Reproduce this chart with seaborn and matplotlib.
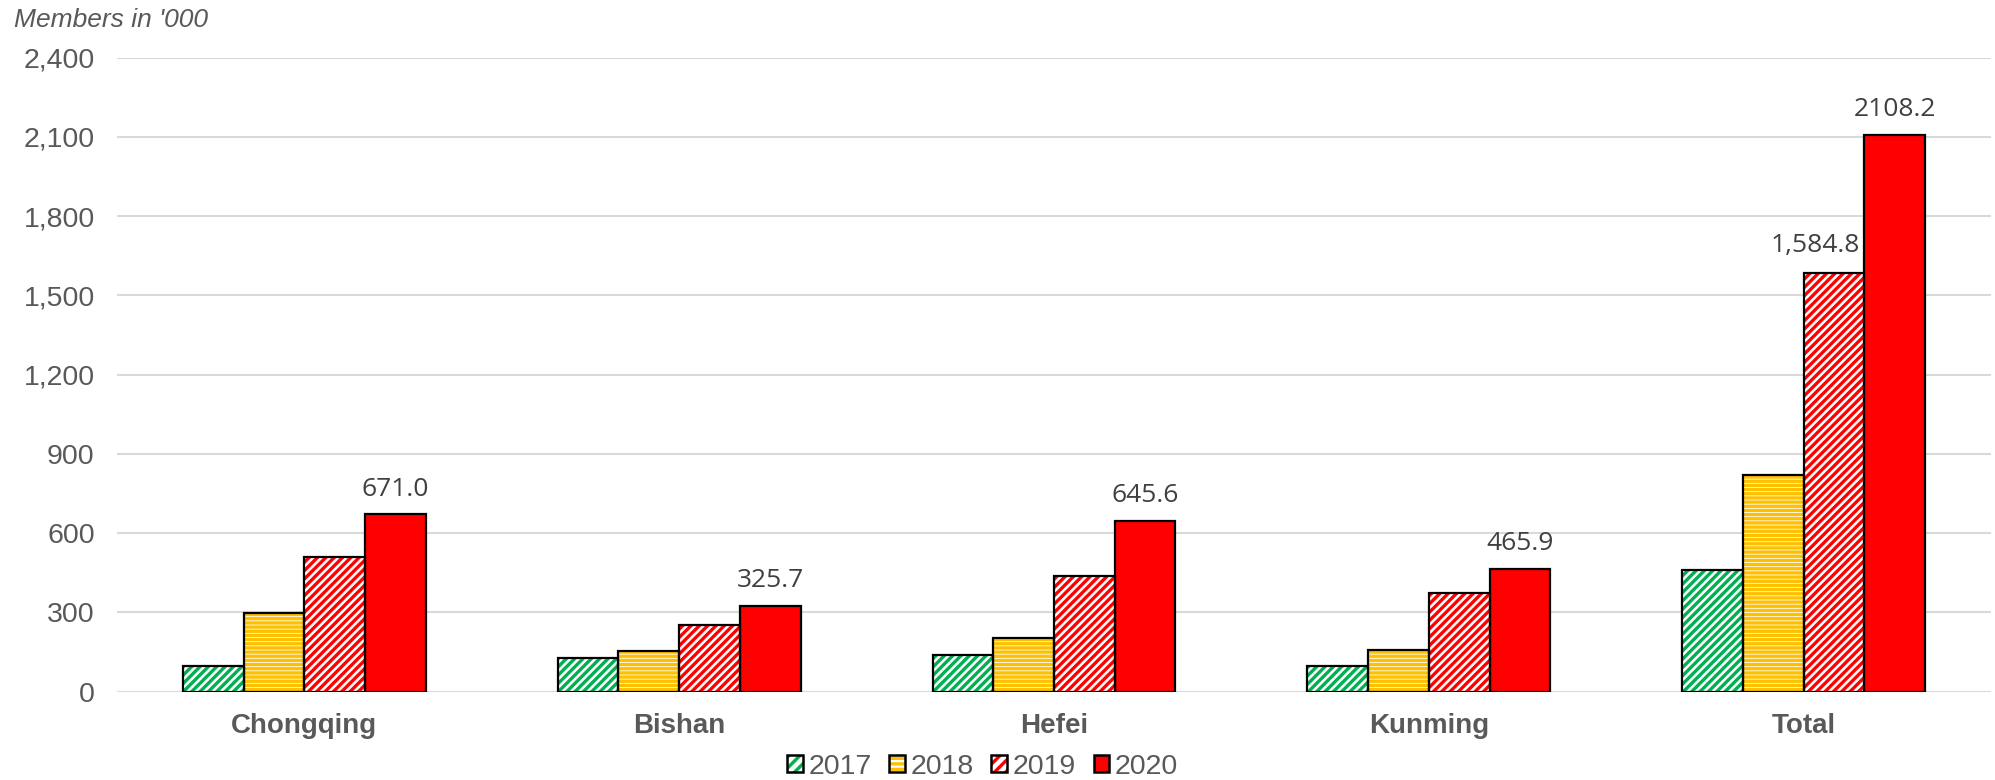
import matplotlib
matplotlib.use("Agg")
import matplotlib.pyplot as plt
from matplotlib.patches import Rectangle, Patch
from matplotlib.legend_handler import HandlerTuple
from matplotlib.ticker import FuncFormatter, MultipleLocator
import seaborn as sns
import pandas as pd

# Membership (thousands) by city and year
cities = ["Chongqing", "Bishan", "Hefei", "Kunming", "Total"]
years = ["2017", "2018", "2019", "2020"]
members_2017 = [98, 126, 138, 96, 459]
members_2018 = [299, 153, 204, 158, 820]
members_2019 = [511, 254, 439, 374, 1584.8]
members_2020 = [671.0, 325.7, 645.6, 465.9, 2108.2]

series_colors = {"2017": "#00B050", "2018": "#FFC000", "2019": "#FF0000", "2020": "#FF0000"}
series_hatch = {"2017": "////", "2018": "----", "2019": "////", "2020": None}

GRAY = "#595959"
LABEL_GRAY = "#404040"

sns.set_theme(style="white")
plt.rcParams["font.family"] = ["Liberation Sans", "DejaVu Sans"]
plt.rcParams["hatch.linewidth"] = 2.4

df = pd.DataFrame({
    "city": cities * 4,
    "year": [y for y in years for _ in cities],
    "members": members_2017 + members_2018 + members_2019 + members_2020,
})

fig = plt.figure(figsize=(19.95, 7.8), dpi=100)
ax = fig.add_axes([0.0586, 0.1132, 0.9394, 0.8129])

sns.barplot(data=df, x="city", y="members", hue="year", order=cities,
            hue_order=years, palette=series_colors, width=0.648, gap=0,
            errorbar=None, ax=ax, legend=False)

legend_handles = []
for year, container in zip(years, ax.containers):
    color = series_colors[year]
    hatch = series_hatch[year]
    for bar in container:
        if hatch:
            bar.set_facecolor("white")
            bar.set_edgecolor(color)
            bar.set_hatch(hatch)
            bar.set_linewidth(0)
        else:
            bar.set_facecolor(color)
            bar.set_linewidth(0)
        outline = Rectangle(bar.get_xy(), bar.get_width(), bar.get_height(),
                            fill=False, edgecolor="black", linewidth=1.6, zorder=3)
        ax.add_patch(outline)
    if hatch:
        inner = Patch(facecolor="white", edgecolor=color,
                      hatch="///" if "/" in hatch else "---", linewidth=0)
    else:
        inner = Patch(facecolor=color, linewidth=0)
    frame = Patch(fill=False, edgecolor="black", linewidth=1.8)
    legend_handles.append((inner, frame))

# Value labels for the 2020 series
for bar, val in zip(ax.containers[3], members_2020):
    ax.annotate(f"{val:.1f}", (bar.get_x() + bar.get_width() / 2, bar.get_height()),
                xytext=(0, 13.5), textcoords="offset points", ha="center",
                va="baseline", fontsize=19, color=LABEL_GRAY, family="Open Sans")

# Label for the 2019 total
total_2019 = ax.containers[2][4]
ax.annotate(f"{members_2019[4]:,.1f}",
            (total_2019.get_x() + total_2019.get_width(), total_2019.get_height()),
            xytext=(-3, 15), textcoords="offset points", ha="right",
            va="baseline", fontsize=19, color=LABEL_GRAY, family="Open Sans")

ax.set_ylim(0, 2400)
ax.set_xlim(-0.5, 4.5)
ax.yaxis.set_major_locator(MultipleLocator(300))
ax.yaxis.set_major_formatter(FuncFormatter(lambda v, p: f"{v:,.0f}"))
ax.grid(axis="y", color="#D9D9D9", linewidth=1.5)
ax.set_axisbelow(True)
for s in ax.spines.values():
    s.set_visible(False)
ax.set_xlabel("")
ax.set_ylabel("")
ax.tick_params(axis="y", length=0, pad=16, labelsize=20.5, labelcolor=GRAY)
ax.tick_params(axis="x", length=0, pad=15, labelsize=20, labelcolor=GRAY)
for t in ax.get_xticklabels():
    t.set_fontweight("bold")

fig.text(14 / 1995, 1 - 20 / 780, "Members in '000", fontsize=19, style="italic",
         color=GRAY, ha="left", va="center")

fig.legend(legend_handles, years, loc="center", bbox_to_anchor=(0.4925, 0.017),
           ncol=4, frameon=False, fontsize=20.5, labelcolor=GRAY,
           handler_map={tuple: HandlerTuple(ndivide=1, pad=0)},
           handlelength=0.55, handleheight=0.55, handletextpad=0.2,
           columnspacing=0.62, borderpad=0)

fig.savefig("out.png", dpi=100)
